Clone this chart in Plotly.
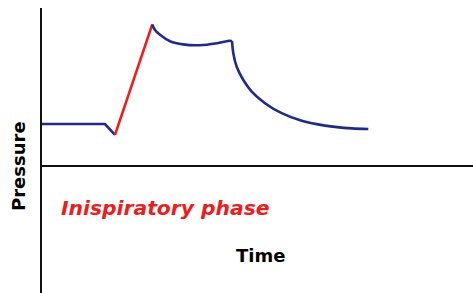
import plotly.graph_objects as go

# Schematic pressure-time curve (time in s, pressure in cmH2O, estimated)
base_t = [0.0, 0.64, 0.74]
base_p = [5.25, 5.25, 3.9]

insp_t = [0.74, 1.113]
insp_p = [3.9, 17.7]

plateau_t = [1.113, 1.14, 1.19, 1.29, 1.42, 1.59, 1.76, 1.89, 1.91]
plateau_p = [17.7, 17.0, 16.4, 15.6, 15.2, 15.1, 15.35, 15.65, 15.6]

decay_t = [1.91, 1.923, 1.957, 2.023, 2.107, 2.24, 2.407, 2.607, 2.84, 3.107, 3.273]
decay_p = [15.6, 14.1, 12.4, 10.75, 9.3, 7.85, 6.6, 5.65, 5.05, 4.7, 4.62]

BLUE = "#1f2a8c"
RED = "#ee1c1c"
W, H = 473, 293

# pixel mapping: t=0 at X=41, p=0 at Y=166; 100 px/s, 8 px/cmH2O
X0, Y0, SX, SY = 41, 166, 100.0, 8.0


def px(X):
    return X / W


def py(Y):
    return (H - Y) / H


fig = go.Figure()
fig.add_trace(go.Scatter(x=base_t, y=base_p, mode="lines",
                         line=dict(color=BLUE, width=2.6)))
fig.add_trace(go.Scatter(x=insp_t, y=insp_p, mode="lines",
                         line=dict(color=RED, width=2.6)))
fig.add_trace(go.Scatter(x=plateau_t, y=plateau_p, mode="lines",
                         line=dict(color=BLUE, width=2.6, shape="spline", smoothing=0.8)))
fig.add_trace(go.Scatter(x=decay_t, y=decay_p, mode="lines",
                         line=dict(color=BLUE, width=2.6, shape="spline", smoothing=0.8)))

fig.add_shape(type="line", x0=0, x1=0, y0=(Y0 - 8) / SY, y1=-(H - Y0) / SY,
              line=dict(color="#111111", width=2))
fig.add_shape(type="line", x0=0, x1=(W - X0) / SX, y0=0, y1=0,
              line=dict(color="#111111", width=2))

fig.add_annotation(text="Pressure", textangle=-90, xref="paper", yref="paper",
                   x=px(18.5), y=py(166.5), xanchor="center", yanchor="middle", showarrow=False,
                   font=dict(family="DejaVu Sans", size=18, color="#000000", weight="bold"))
fig.add_annotation(text="Inispiratory phase", xref="paper", yref="paper",
                   x=px(165), y=py(208), xanchor="center", yanchor="middle", showarrow=False,
                   font=dict(family="DejaVu Sans", size=20.3, color=RED, weight="bold", style="italic"))
fig.add_annotation(text="Time", xref="paper", yref="paper",
                   x=px(260), y=py(255), xanchor="center", yanchor="middle", showarrow=False,
                   font=dict(family="DejaVu Sans", size=18, color="#000000", weight="bold"))

fig.update_layout(
    width=W, height=H,
    margin=dict(l=0, r=0, t=0, b=0),
    paper_bgcolor="white", plot_bgcolor="white",
    showlegend=False,
    xaxis=dict(range=[-X0 / SX, (W - X0) / SX], visible=False, fixedrange=True),
    yaxis=dict(range=[-(H - Y0) / SY, Y0 / SY], visible=False, fixedrange=True),
)

fig.write_html(
    "out.html",
    config={"displayModeBar": False},
    post_script="document.body.style.margin='0';document.body.style.overflow='hidden';",
)
